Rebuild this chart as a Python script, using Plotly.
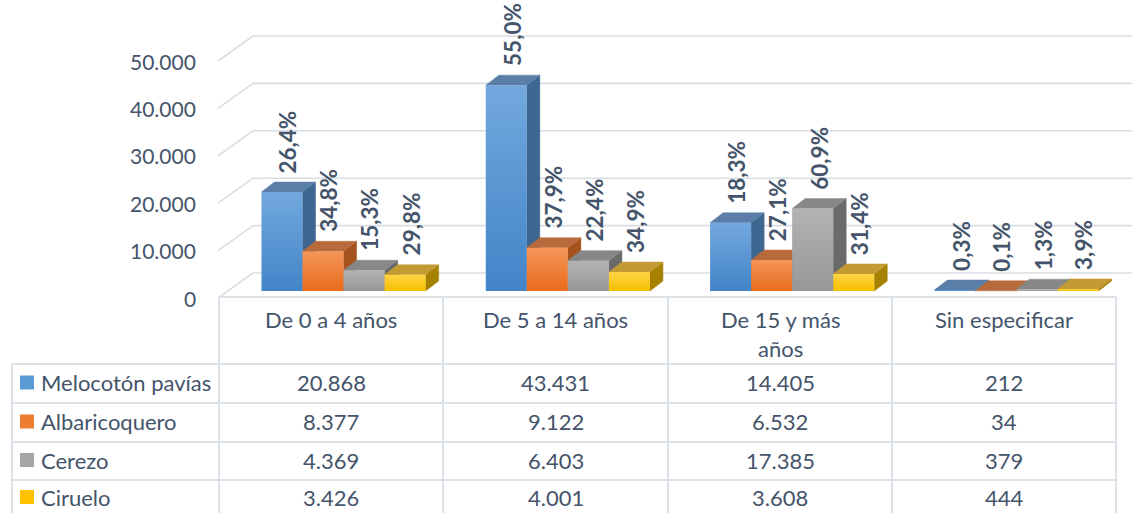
import plotly.graph_objects as go

# ---------------- data ----------------
categories = ["De 0 a 4 años", "De 5 a 14 años", "De 15 y más años", "Sin especificar"]
category_labels = ["De 0 a 4 años", "De 5 a 14 años", "De 15 y más<br>años", "Sin especificar"]
series_names = ["Melocotón pavías", "Albaricoquero", "Cerezo", "Ciruelo"]

melocoton = [20868, 43431, 14405, 212]
albaricoquero = [8377, 9122, 6532, 34]
cerezo = [4369, 6403, 17385, 379]
ciruelo = [3426, 4001, 3608, 444]

pct_melocoton = ["26,4%", "55,0%", "18,3%", "0,3%"]
pct_albaricoquero = ["34,8%", "37,9%", "27,1%", "0,1%"]
pct_cerezo = ["15,3%", "22,4%", "60,9%", "1,3%"]
pct_ciruelo = ["29,8%", "34,9%", "31,4%", "3,9%"]

y_ticks = [0, 10000, 20000, 30000, 40000, 50000]
y_tick_labels = ["0", "10.000", "20.000", "30.000", "40.000", "50.000"]

values = [melocoton, albaricoquero, cerezo, ciruelo]
pcts = [pct_melocoton, pct_albaricoquero, pct_cerezo, pct_ciruelo]

# ---------------- styles ----------------
# (front bottom, front top, top face, side face)
palette = [
    ("#4384c8", "#72a8de", "#5a7ea8", "#3d6690"),
    ("#ea6b1c", "#f49559", "#b86a3c", "#a4531d"),
    ("#979797", "#b3b3b3", "#878787", "#6a6a6a"),
    ("#f7bf00", "#ffd445", "#c39a33", "#a68200"),
]
legend_colors = ["#5b9bd5", "#ed7d31", "#a5a5a5", "#ffc000"]
TEXT = "#44546A"
GRID = "#d9dee5"
FONT = "Lato"
FS_TICK = 21
FS_TABLE = 22
FS_PCT = 22.5

W, H = 1132, 513
CX0, COL = 331.0, 224.3      # px centre of first category, px per category
Y0, K = 291.0, 0.00474       # px of zero on bar plane, px per unit


def xv(px):
    return (px - CX0) / COL


def pxoff(p):
    return p / K


BAR_OFF, BAR_W = -0.31, 0.183
DX, DY = 13 / COL, pxoff(10)
BACK_DY = pxoff(18)
FRONT_DY = pxoff(-7)

fig = go.Figure()

# ---------------- back wall grid ----------------
shapes = []
for v in y_ticks:
    shapes.append(dict(type="line", xref="x", yref="y",
                       x0=xv(253), x1=xv(1140), y0=v + BACK_DY, y1=v + BACK_DY,
                       line=dict(color=GRID, width=1.6), layer="below"))
    shapes.append(dict(type="line", xref="x", yref="y",
                       x0=xv(218), x1=xv(253), y0=v + FRONT_DY, y1=v + BACK_DY,
                       line=dict(color=GRID, width=1.6), layer="below"))

# ---------------- 3D bars ----------------
for i in range(len(categories)):
    for j in range(len(series_names)):
        v = values[j][i]
        x0 = i + BAR_OFF + j * BAR_W
        x1 = x0 + BAR_W
        fb, ft, ctop, cside = palette[j]
        # side face
        fig.add_trace(go.Scatter(
            x=[x1, x1, x1 + DX, x1 + DX, x1], y=[0, v, v + DY, DY, 0],
            mode="lines", fill="toself", fillcolor=cside,
            line=dict(width=0.5, color=cside), hoverinfo="skip", showlegend=False))
        # top face
        fig.add_trace(go.Scatter(
            x=[x0, x1, x1 + DX, x0 + DX, x0], y=[v, v, v + DY, v + DY, v],
            mode="lines", fill="toself", fillcolor=ctop,
            line=dict(width=0.5, color=ctop), hoverinfo="skip", showlegend=False))
        # front face
        fig.add_trace(go.Scatter(
            x=[x0, x1, x1, x0, x0], y=[0, 0, v, v, 0],
            mode="lines", fill="toself",
            fillgradient=dict(type="vertical", colorscale=[[0, fb], [1, ft]],
                              start=0, stop=max(v, 1)),
            line=dict(width=0), hoverinfo="skip", name=series_names[j], showlegend=False))

# ---------------- annotations ----------------
ann = []
for v, t in zip(y_ticks, y_tick_labels):
    ann.append(dict(x=198 / W, xref="paper", xanchor="right", y=v + FRONT_DY, yref="y",
                    yanchor="middle", text=t, showarrow=False,
                    font=dict(family=FONT, size=FS_TICK, color=TEXT)))

for i in range(len(categories)):
    for j in range(len(series_names)):
        v = values[j][i]
        x0 = i + BAR_OFF + j * BAR_W
        ann.append(dict(x=x0 + BAR_W / 2 + 6 / COL, xref="x", y=v + pxoff(17), yref="y",
                        xanchor="center", yanchor="bottom", textangle=-90,
                        text="<b>" + pcts[j][i] + "</b>", showarrow=False,
                        font=dict(family=FONT, size=FS_PCT, color=TEXT)))

# ---------------- data table ----------------
def px(xp):
    return xp / W


def py(yp):
    return 1 - yp / H


col_x = [219, 443, 668, 892, 1116]
row_y = [364, 403, 442, 480, 516]
TL = dict(color="#dde2e8", width=2)

shapes.append(dict(type="line", xref="paper", yref="paper", x0=px(219), x1=px(1116),
                   y0=py(297), y1=py(297), line=TL))
for yl in row_y[:-1]:
    shapes.append(dict(type="line", xref="paper", yref="paper", x0=px(12), x1=px(1116),
                       y0=py(yl), y1=py(yl), line=TL))
for xl in col_x:
    shapes.append(dict(type="line", xref="paper", yref="paper", x0=px(xl), x1=px(xl),
                       y0=py(297), y1=py(520), line=TL))
shapes.append(dict(type="line", xref="paper", yref="paper", x0=px(12), x1=px(12),
                   y0=py(364), y1=py(520), line=TL))

for c in range(len(categories)):
    cx = (col_x[c] + col_x[c + 1]) / 2
    ann.append(dict(x=px(cx), xref="paper", y=py(304), yref="paper",
                    xanchor="center", yanchor="top", text=category_labels[c], showarrow=False,
                    font=dict(family=FONT, size=FS_TABLE, color=TEXT)))

for j in range(len(series_names)):
    rc = (row_y[j] + row_y[j + 1]) / 2 - 1
    shapes.append(dict(type="rect", xref="paper", yref="paper",
                       x0=px(20), x1=px(34), y0=py(rc - 7), y1=py(rc + 7),
                       fillcolor=legend_colors[j], line=dict(width=0)))
    ann.append(dict(x=px(39), xref="paper", y=py(rc), yref="paper",
                    xanchor="left", yanchor="middle", text=series_names[j], showarrow=False,
                    font=dict(family=FONT, size=FS_TABLE, color=TEXT)))
    for c in range(len(categories)):
        cx = (col_x[c] + col_x[c + 1]) / 2
        txt = f"{values[j][c]:,}".replace(",", ".")
        ann.append(dict(x=px(cx), xref="paper", y=py(rc), yref="paper",
                        xanchor="center", yanchor="middle", text=txt, showarrow=False,
                        font=dict(family=FONT, size=FS_TABLE, color=TEXT)))

fig.update_layout(
    width=W, height=H,
    margin=dict(l=0, r=0, t=0, b=0),
    paper_bgcolor="white", plot_bgcolor="white",
    xaxis=dict(range=[xv(0), xv(W)], visible=False, fixedrange=True),
    yaxis=dict(range=[(Y0 - H) / K, Y0 / K], visible=False, fixedrange=True),
    shapes=shapes, annotations=ann, showlegend=False,
)

fig.write_html("out.html", config={"displayModeBar": False},
               post_script="document.body.style.margin='0';document.body.style.overflow='hidden';")
